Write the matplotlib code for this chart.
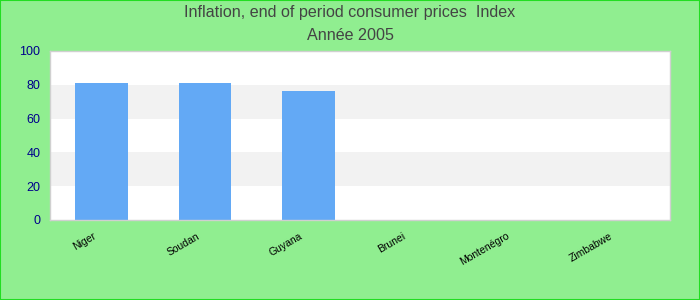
import matplotlib
matplotlib.use("Agg")
import matplotlib.pyplot as plt
import matplotlib.transforms as mtransforms

# data (Année 2005)
countries = ["Niger", "Soudan", "Guyana", "Brunei", "Montenégro", "Zimbabwe"]
values = [81.2, 81.2, 76.5, 0, 0, 0]
y_ticks = [0, 20, 40, 60, 80, 100]
title_lines = ["Inflation, end of period consumer prices  Index", "Année 2005"]

plt.rcParams["font.family"] = ["Liberation Sans", "DejaVu Sans"]

bg = "#90EE90"
fig = plt.figure(figsize=(7, 3), dpi=100, facecolor=bg)
ax = fig.add_axes([50 / 700, 80 / 300, 620 / 700, 169 / 300])
ax.set_facecolor("white")

# alternating horizontal bands
for lo, hi in zip(y_ticks[:-1], y_ticks[1:]):
    if (lo // 20) % 2 == 1:
        ax.axhspan(lo, hi, color="#F2F2F2", zorder=0, lw=0)

x = range(len(countries))
ax.bar(x, values, width=0.51, color="#63A9F5", zorder=2)

ax.set_xlim(-0.5, len(countries) - 0.5)
ax.set_ylim(0, 100)
ax.set_yticks(y_ticks)
ax.set_yticklabels([str(t) for t in y_ticks], color="#00008B", fontsize=9)
ax.set_xticks(list(x))
ax.set_xticklabels(countries, rotation=30, ha="right", fontsize=7.5,
                   rotation_mode="anchor")
ax.tick_params(axis="both", length=0)
ax.tick_params(axis="x", pad=8)
ax.tick_params(axis="y", pad=7)
shift = mtransforms.ScaledTranslation(-9 / 100, 0, fig.dpi_scale_trans)
for lbl in ax.get_xticklabels():
    lbl.set_transform(lbl.get_transform() + shift)
for s in ax.spines.values():
    s.set_color("#D0D0D0")
    s.set_linewidth(1)

fig.text(0.5, 1 - 13 / 300, title_lines[0], ha="center", va="center",
         fontsize=11.6, color="#444444")
fig.text(0.5, 1 - 36 / 300, title_lines[1], ha="center", va="center",
         fontsize=11.6, color="#444444")

# outer green border
fig.patches.append(plt.Rectangle((0, 0), 1, 1, transform=fig.transFigure,
                                 fill=False, edgecolor="#22DD22", lw=1.5))

fig.savefig("out.png", dpi=100, facecolor=bg)
